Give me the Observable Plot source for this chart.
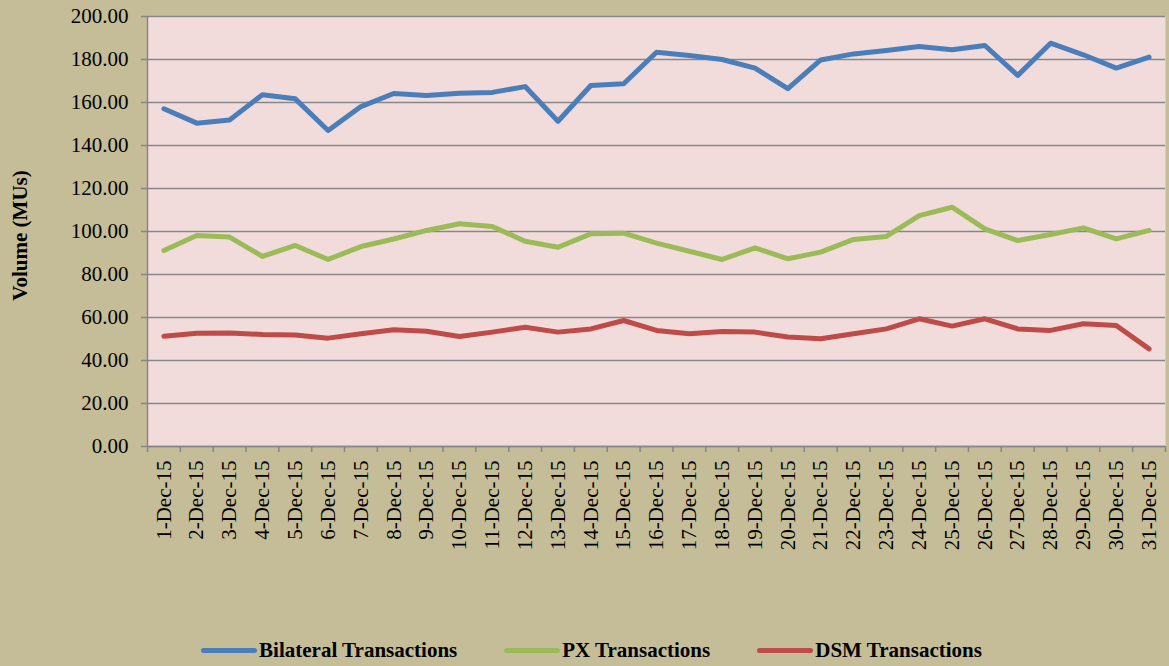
<!DOCTYPE html>
<html>
<head>
<meta charset="utf-8">
<script src="https://cdn.jsdelivr.net/npm/d3@7"></script>
<script src="https://cdn.jsdelivr.net/npm/@observablehq/plot@0.6"></script>
<style>
  html, body { margin: 0; padding: 0; background: #C4BD97; }
  #chart svg { display: block; }
  #legend { height: 41px; display: flex; justify-content: center; align-items: center; gap: 47px;
    padding-left: 14px; padding-top: 10px; box-sizing: border-box;
    font-family: "Liberation Serif", "Times New Roman", serif; font-weight: bold; font-size: 21px; color: #000; }
  .item { display: flex; align-items: center; }
  .sw { width: 56px; height: 5px; border-radius: 3px; margin-right: 2px; }
</style>
</head>
<body>
<div id="chart"></div>
<div id="legend"></div>
<script>
const dates = ["1-Dec-15","2-Dec-15","3-Dec-15","4-Dec-15","5-Dec-15","6-Dec-15","7-Dec-15","8-Dec-15","9-Dec-15","10-Dec-15",
  "11-Dec-15","12-Dec-15","13-Dec-15","14-Dec-15","15-Dec-15","16-Dec-15","17-Dec-15","18-Dec-15","19-Dec-15","20-Dec-15",
  "21-Dec-15","22-Dec-15","23-Dec-15","24-Dec-15","25-Dec-15","26-Dec-15","27-Dec-15","28-Dec-15","29-Dec-15","30-Dec-15","31-Dec-15"];
const bilateral = [157.1,150.4,151.9,163.6,161.7,147.0,158.1,164.2,163.3,164.3,164.7,167.4,151.3,167.9,168.7,183.4,181.9,180.0,176.0,
  166.4,179.8,182.6,184.2,186.0,184.5,186.5,172.6,187.6,182.2,176.0,181.1];
const px = [91.2,98.1,97.4,88.4,93.5,87.0,93.0,96.5,100.5,103.6,102.3,95.5,92.7,98.9,99.2,94.6,90.8,87.0,92.4,87.3,90.4,96.3,97.7,
  107.4,111.3,101.2,95.8,98.6,101.7,96.6,100.5];
const dsm = [51.3,52.7,52.8,52.1,51.9,50.4,52.4,54.3,53.6,51.2,53.2,55.5,53.2,54.7,58.6,54.0,52.4,53.5,53.2,50.9,50.1,52.4,54.7,
  59.4,56.0,59.4,54.7,54.0,57.1,56.3,45.4];
const seriesNames = ["Bilateral Transactions","PX Transactions","DSM Transactions"];
const seriesColors = ["#4A7EBB","#9BBB59","#BE4B48"];
const yTicks = [0,20,40,60,80,100,120,140,160,180,200];
const yLabel = "Volume (MUs)";

const dayIdx = dates.map((d, i) => i + 1);
const rows = [];
[bilateral, px, dsm].forEach((vals, s) => vals.forEach((v, i) => rows.push({series: seriesNames[s], day: i + 1, value: v})));
const boundaries = d3.range(0, dates.length + 1).map(i => i + 0.5);
const grid = "#868686";

const chart = Plot.plot({
  width: 1169, height: 625,
  marginLeft: 147, marginRight: 4, marginTop: 16, marginBottom: 179,
  style: {background: "transparent", fontFamily: "'Liberation Serif', 'Times New Roman', serif", fontSize: "21px", color: "#000"},
  x: {type: "linear", domain: [0.5, dates.length + 0.5], axis: null},
  y: {domain: [0, 200], axis: null},
  color: {domain: seriesNames, range: seriesColors},
  marks: [
    Plot.frame({fill: "#F2DCDB", stroke: null}),
    Plot.gridY(yTicks, {stroke: grid, strokeOpacity: 1, strokeWidth: 1.5}),
    Plot.ruleX([0.5], {stroke: grid, strokeWidth: 1.5}),
    Plot.ruleY([0], {stroke: grid, strokeWidth: 1.5}),
    Plot.axisY(yTicks, {label: null, tickFormat: d => d.toFixed(2), tickSize: 6, tickPadding: 13, stroke: grid, strokeWidth: 1.5, fill: "#000", fontSize: 21}),
    Plot.axisX(boundaries, {label: null, tickSize: 6, tickFormat: () => "", stroke: grid, strokeWidth: 1.5}),
    Plot.axisX(dayIdx, {label: null, tickFormat: d => dates[d - 1], tickRotate: -90, tickSize: 0, tickPadding: 14, fill: "#000", fontSize: 21}),
    Plot.line(rows, {x: "day", y: "value", z: "series", stroke: "series", strokeWidth: 5, strokeLinejoin: "round", strokeLinecap: "round"}),
    Plot.text([yLabel], {frameAnchor: "left", textAnchor: "middle", dx: -127, dy: 4, rotate: -90, fontWeight: "bold", fontSize: 21, fill: "#000"})
  ]
});
document.getElementById("chart").appendChild(chart);

const legend = document.getElementById("legend");
seriesNames.forEach((name, i) => {
  const it = document.createElement("div");
  it.className = "item";
  const sw = document.createElement("div");
  sw.className = "sw";
  sw.style.background = seriesColors[i];
  const t = document.createElement("span");
  t.textContent = name;
  it.appendChild(sw); it.appendChild(t);
  legend.appendChild(it);
});
</script>
</body>
</html>
